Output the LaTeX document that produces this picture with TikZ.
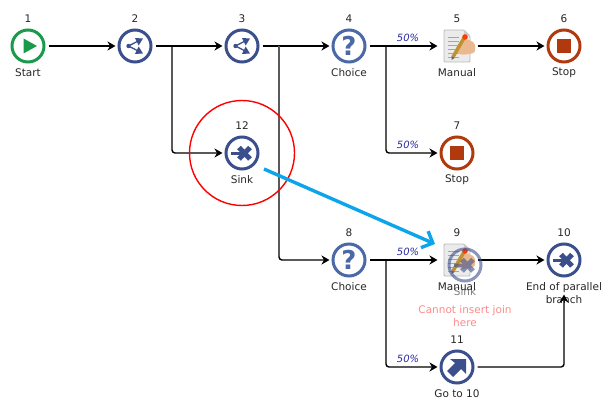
\documentclass[tikz,border=0pt]{standalone}
\usepackage{fontspec}
\setmainfont{DejaVu Sans}
\usetikzlibrary{arrows.meta, calc}

\definecolor{startgreen}{HTML}{1B9A4B}
\definecolor{flowblue}{HTML}{3B4F8C}
\definecolor{choiceblue}{HTML}{4A69A6}
\definecolor{stopred}{HTML}{B03A0E}
\definecolor{dropblue}{HTML}{0CA4EA}
\definecolor{percentblue}{HTML}{2A2AA0}
\definecolor{warnpink}{HTML}{FF8A8A}
\definecolor{handskin}{HTML}{EBB98F}
\definecolor{pencilgold}{HTML}{BE9233}

\tikzset{
    ring/.style={circle, draw=#1, line width=3pt, minimum size=32pt, inner sep=0pt},
    blankbox/.style={circle, line width=3pt, minimum size=32pt, inner sep=0pt},
    steptext/.style={font=\fontsize{10.5}{13}\selectfont, text=black!85, align=center, inner sep=0pt},
    percent/.style={font=\fontsize{10}{12}\selectfont\itshape, text=percentblue, inner sep=0pt},
    flow/.style={line width=1.4pt, rounded corners=3pt, shorten <=3pt, shorten >=2pt,
        -{Stealth[length=8pt, width=9pt, inset=2.5pt]}},
    forkicon/.pic={
        \fill[flowblue] (-6.5,0) circle (2.2);
        \draw[flowblue, line width=1.3pt, -{Triangle[length=7pt, width=8pt]}] (-6.5,0) -- (8,-7.5);
        \draw[flowblue, line width=1.3pt, -{Triangle[length=7pt, width=8pt]}] (-6.5,0) -- (8,7.5);
    },
    starticon/.pic={\fill[startgreen] (-4.5,-7.5) -- (9,0) -- (-4.5,7.5) -- cycle;},
    stopicon/.pic={\fill[stopred] (-7,-7) rectangle (7,7);},
    crossicon/.pic={
        \draw[flowblue, line width=5pt] (-3,-5.5) -- (8,6);
        \draw[flowblue, line width=5pt] (-3,6) -- (8,-5.5);
        \draw[flowblue, line width=3.5pt] (-11,0.3) -- (2,0.3);
    },
    goicon/.pic={
        \fill[flowblue] (9,-8) -- (9,7) -- (4,2) -- (-4,10) -- (-10,4) -- (-2,-4) -- (-7,-8) -- cycle;
    },
    manualicon/.pic={
        % paper with folded corner
        \fill[black!8, draw=black!28, line width=0.8pt, rounded corners=1pt]
            (-13,-16) -- (7,-16) -- (13,-10) -- (13,16) -- (-13,16) -- cycle;
        \fill[black!20] (7,-16) -- (13,-10) -- (7,-10) -- cycle;
        \foreach \liney in {-9,-5,-1,3,7,11}
            \draw[black!35, line width=0.7pt] (-9,\liney) -- (2,\liney);
        % hand and pencil
        \fill[handskin, rounded corners=2pt] (-3,6) -- (3,-5) -- (10,-7) -- (18,-3) -- (18,7) -- (5,9) -- cycle;
        \draw[pencilgold, line width=3.5pt] (-4,11) -- (7,-8);
        \fill[black!60] (-5.5,14) -- (-5.5,10) -- (-2.5,12) -- cycle;
        \fill[red!55!orange] (8,-9) circle (2.8);
    }
}

\begin{document}
\begin{tikzpicture}[x=1pt, y=-1pt]

    \useasboundingbox (0,0) rectangle (612,406);

    % --- Steps ---
    \node[ring=startgreen] (s1) at (28,46) {};
    \node[ring=flowblue] (s2) at (135,46) {};
    \node[ring=flowblue] (s3) at (242,46) {};
    \node[ring=choiceblue, text=choiceblue, font=\fontsize{26}{26}\selectfont\bfseries] (s4) at (349,46) {?};
    \node[blankbox] (s5) at (457,46) {};
    \node[ring=stopred] (s6) at (564,46) {};
    \node[ring=stopred] (s7) at (457,153) {};
    \node[ring=choiceblue, text=choiceblue, font=\fontsize{26}{26}\selectfont\bfseries] (s8) at (349,260) {?};
    \node[blankbox] (s9) at (457,260) {};
    \node[ring=flowblue] (s10) at (564,260) {};
    \node[ring=flowblue] (s11) at (457,367) {};
    \node[ring=flowblue] (s12) at (242,153) {};

    % --- Icons ---
    \pic at (s1) {starticon};
    \pic at (s2) {forkicon};
    \pic at (s3) {forkicon};
    \pic at (s5) {manualicon};
    \pic at (s6) {stopicon};
    \pic at (s7) {stopicon};
    \pic at (s9) {manualicon};
    \pic at (s10) {crossicon};
    \pic at (s11) {goicon};
    \pic at (s12) {crossicon};

    % --- Numbers above the steps ---
    \node[steptext] (num1) at (28,18.5) {1};
    \node[steptext] (num2) at (135,18.5) {2};
    \node[steptext] (num3) at (242,18.5) {3};
    \node[steptext] (num4) at (349,18.5) {4};
    \node[steptext] (num5) at (457,18.5) {5};
    \node[steptext] (num6) at (564,18.5) {6};
    \node[steptext] (num7) at (457,125.5) {7};
    \node[steptext] (num8) at (349,232.5) {8};
    \node[steptext] (num9) at (457,232.5) {9};
    \node[steptext] (num10) at (564,232.5) {10};
    \node[steptext] (num11) at (457,339.5) {11};
    \node[steptext] (num12) at (242,125.5) {12};

    % --- Names below the steps ---
    \node[steptext] (name1) at (28,72.5) {Start};
    \node[steptext] (name4) at (349,72.5) {Choice};
    \node[steptext] (name5) at (457,72.5) {Manual};
    \node[steptext] (name6) at (564,72.5) {Stop};
    \node[steptext] (name7) at (457,179.5) {Stop};
    \node[steptext] (name8) at (349,286.5) {Choice};
    \node[steptext] (name9) at (457,286.5) {Manual};
    \node[steptext] (name10) at (564,293) {End of parallel\\branch};
    \node[steptext] (name11) at (457,393.5) {Go to 10};
    \node[steptext] (name12) at (242,179.5) {Sink};

    % --- Forks on the connectors ---
    \coordinate (fork2) at (172,46);
    \coordinate (fork3) at (279,46);
    \coordinate (turn3) at (279,254);
    \coordinate (fork4) at (386,46);
    \coordinate (fork8) at (386,260);
    \coordinate (turn11) at (564,367);

    % --- Connectors ---
    \draw[flow] (s1) -- (s2);
    \draw[flow] (s2) -- (s3);
    \draw[flow] (s3) -- (s4);
    \draw[flow] (s4) -- (s5);
    \draw[flow] (s5) -- (s6);
    \draw[flow] (s8) -- (s9);
    \draw[flow] (s9) -- (s10);
    \draw[flow, shorten <=0pt] (fork2) |- (s12);
    \draw[flow, shorten <=0pt] (fork3) |- (s8);
    \draw[black!65, line width=1.4pt] (fork3) -- (turn3); % lighter run behind the marker
    \draw[flow, shorten <=0pt] (fork4) |- (s7);
    \draw[flow, shorten <=0pt] (fork8) |- (s11);
    \draw[flow, shorten >=17pt] (s11) -- (turn11) -- (s10);

    % --- Branch chances ---
    \node[percent] (pct4a) at (408,38) {50\%};
    \node[percent] (pct4b) at (408,145) {50\%};
    \node[percent] (pct8a) at (408,252) {50\%};
    \node[percent] (pct8b) at (408,359) {50\%};

    % --- Dragged step ---
    \begin{scope}[opacity=0.6, transparency group]
        \node[ring=flowblue] (ghost) at (465,265) {};
        \pic at (ghost) {crossicon};
        \node[steptext] (ghostname) at (465,291.5) {Sink};
    \end{scope}
    \node[circle, draw=red, line width=1.4pt, minimum size=105pt, inner sep=0pt] (marker) at (242,153) {};
    \coordinate (dragfrom) at (264,169);
    \coordinate (dragto) at (435,244);
    \draw[dropblue, line width=3.4pt, -{Straight Barb[length=9pt, width=18pt]}] (dragfrom) -- (dragto);
    \node[steptext, text=warnpink] (warning) at (465,316) {Cannot insert join\\here};

\end{tikzpicture}
\end{document}
